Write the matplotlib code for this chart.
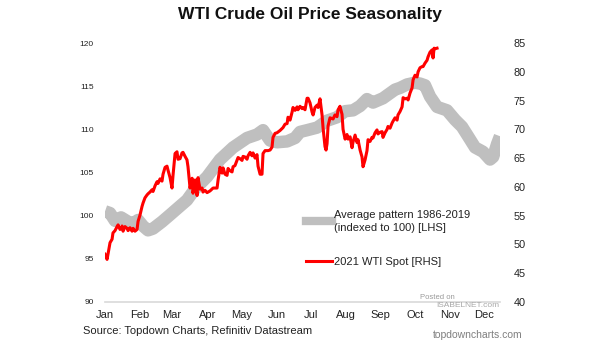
import numpy as np
import matplotlib.pyplot as plt
from matplotlib.lines import Line2D

# month ticks (day of year at month start)
months = ["Jan", "Feb", "Mar", "Apr", "May", "Jun",
          "Jul", "Aug", "Sep", "Oct", "Nov", "Dec"]
month_days = [0, 31, 59, 90, 120, 151, 181, 212, 243, 273, 304, 334]

# average pattern 1986-2019, indexed to 100 (LHS)
avg_days = [0, 4.4, 8.8, 14.1, 20.3, 24.7, 29.1, 33.5, 37.9, 42.3, 50.2, 57.3,
            64.3, 72.2, 79.3, 89.9, 101.3, 112.8, 125.1, 133.9, 139.2, 145.4,
            151.5, 160.4, 167.4, 171.8, 178.0, 186.8, 195.6, 204.4, 211.5,
            218.5, 224.7, 230.8, 236.1, 244.9, 255.5, 259.9, 266.1, 273.1,
            277.5, 281.9, 286.3, 292.5, 301.3, 308.4, 314.5, 319.8, 326.0,
            333.0, 339.2, 341.9, 345.4, 348.0]
avg_vals = [100.5, 100.3, 99.4, 99.8, 99.3, 99.1, 99.5, 98.8, 98.3, 98.5, 99.3,
            100.1, 100.9, 101.8, 103.1, 104.5, 106.5, 107.9, 109.0, 109.4,
            109.9, 108.7, 108.5, 108.6, 109.0, 109.7, 109.9, 110.2, 111.0,
            111.4, 112.1, 112.2, 112.7, 113.5, 113.1, 113.6, 114.6, 114.8,
            115.2, 115.4, 115.3, 115.1, 113.8, 112.6, 112.2, 111.1, 110.3,
            109.2, 107.9, 107.4, 106.5, 106.8, 108.3, 109.2]

# 2021 WTI spot (RHS)
wti_days = [0.0, 1.8, 4.4, 6.2, 7.0, 8.8, 10.6, 11.5, 13.2, 15.0, 15.9, 17.6,
            19.4, 20.3, 22.0, 23.8, 24.7, 26.4, 28.2, 29.1, 30.8, 32.6, 33.5,
            35.2, 37.0, 37.9, 39.6, 41.4, 42.3, 44.1, 45.8, 46.7, 48.5, 50.2,
            51.1, 52.9, 54.6, 55.5, 57.3, 59.0, 59.9, 61.7, 63.4, 64.3, 66.1,
            67.8, 68.7, 70.5, 72.2, 73.1, 74.9, 76.7, 77.5, 79.3, 81.1, 81.9,
            83.7, 85.5, 86.3, 88.1, 89.9, 92.5, 95.2, 98.7, 99.6, 101.3, 103.1,
            104.0, 105.7, 107.5, 108.4, 110.1, 111.9, 112.8, 114.5, 116.3,
            117.2, 118.9, 120.7, 121.6, 123.3, 125.1, 126.0, 127.8, 129.5,
            130.4, 132.2, 133.9, 134.8, 136.6, 138.3, 139.2, 141.0, 143.6,
            145.4, 147.1, 148.0, 149.8, 151.5, 154.2, 156.8, 158.6, 160.4,
            161.2, 163.0, 164.8, 165.6, 167.4, 169.2, 170.0, 171.8, 173.6,
            174.4, 176.2, 178.0, 178.9, 180.6, 182.4, 183.3, 185.0, 186.8,
            187.7, 189.4, 191.2, 192.1, 193.8, 194.7, 195.6, 196.5, 198.2,
            200.9, 202.6, 204.4, 205.3, 207.0, 208.8, 209.7, 211.5, 213.2,
            214.1, 215.9, 217.6, 218.5, 220.3, 222.0, 222.9, 224.7, 226.4,
            227.3, 229.1, 230.8, 231.7, 233.5, 235.2, 236.1, 237.9, 239.6,
            240.5, 242.3, 244.1, 244.9, 246.7, 248.5, 249.3, 251.1, 252.9,
            253.7, 255.5, 257.3, 258.1, 259.9, 261.7, 262.6, 264.3, 266.1,
            267.0, 268.7, 270.5, 271.4, 273.1, 274.9, 275.8, 277.5, 279.3,
            280.2, 281.9, 283.7, 284.6, 286.3, 288.1, 289.0, 289.9, 290.7,
            292.5]
wti_vals = [48.3, 47.4, 50.3, 50.9, 52.0, 52.4, 53.1, 53.4, 52.6, 53.2, 52.3,
            53.1, 52.8, 52.4, 52.9, 52.3, 52.8, 52.3, 52.6, 54.0, 55.1, 56.6,
            57.2, 58.1, 58.6, 58.8, 59.1, 59.5, 59.2, 60.2, 60.9, 60.6, 61.4,
            61.0, 62.2, 63.4, 63.6, 62.9, 61.6, 59.8, 62.0, 65.8, 66.1, 64.8,
            64.9, 65.9, 66.0, 65.3, 64.7, 63.5, 59.8, 61.5, 58.9, 61.2, 58.5,
            61.6, 59.6, 59.8, 59.1, 59.4, 59.0, 59.3, 59.8, 59.8, 61.2, 63.4,
            62.4, 63.3, 62.2, 62.0, 63.2, 62.8, 62.6, 63.5, 63.7, 64.6, 65.1,
            64.9, 64.6, 65.3, 65.2, 64.8, 65.4, 66.0, 65.4, 65.9, 65.0, 65.6,
            63.6, 62.2, 62.2, 65.8, 66.3, 66.3, 66.4, 66.9, 68.6, 69.3, 69.4,
            69.8, 70.3, 70.9, 71.0, 72.1, 71.6, 73.0, 73.8, 73.3, 73.9, 73.4,
            74.0, 73.6, 73.8, 73.4, 75.4, 75.4, 74.6, 73.0, 72.5, 73.8, 74.2,
            73.8, 75.3, 72.5, 70.2, 67.0, 66.4, 67.5, 70.6, 72.0, 71.8, 72.5,
            72.2, 73.4, 74.0, 72.6, 70.0, 68.3, 69.1, 68.3, 68.7, 66.8, 67.8,
            69.0, 67.7, 68.2, 66.4, 65.2, 63.5, 64.7, 66.3, 68.2, 67.9, 68.6,
            68.5, 69.4, 69.9, 69.2, 69.5, 69.6, 68.6, 69.4, 70.0, 70.5, 70.2,
            71.1, 71.4, 72.0, 71.6, 72.5, 73.1, 73.9, 75.5, 75.3, 75.4, 75.1,
            76.3, 77.2, 78.6, 79.4, 79.1, 80.0, 80.7, 80.9, 80.9, 81.5, 82.0,
            82.6, 83.4, 83.8, 82.4, 84.1, 84.0, 84.1]

left_ticks = [90, 95, 100, 105, 110, 115, 120]
right_ticks = [40, 45, 50, 55, 60, 65, 70, 75, 80, 85]

plt.rcParams.update({
    "font.family": ["Liberation Sans", "DejaVu Sans"],
})

GREY = "#BFBFBF"
RED = "#FF0000"

fig = plt.figure(figsize=(6.05, 3.41), dpi=100)
ax = fig.add_axes([0.1736, 0.1144, 0.6529, 0.7595])
ax2 = ax.twinx()

ax.plot(avg_days, avg_vals, color=GREY, linewidth=9,
        solid_capstyle="butt", solid_joinstyle="round")
ax2.plot(wti_days, wti_vals, color=RED, linewidth=2.2,
         solid_joinstyle="round")

ax.set_xlim(0, 348)
ax.set_ylim(90, 120)
ax2.set_ylim(40, 85)
ax.set_yticks(left_ticks)
ax2.set_yticks(right_ticks)
ax.set_xticks(month_days)
ax.set_xticklabels(months)

ax.tick_params(axis="y", length=0, labelsize=6, pad=8, labelcolor="#222222")
ax2.tick_params(axis="y", length=0, labelsize=7.8, pad=10, labelcolor="#222222")
ax.tick_params(axis="x", length=0, labelsize=8, pad=6, labelcolor="#222222")

for a in (ax, ax2):
    for name, sp in a.spines.items():
        sp.set_visible(name == "bottom")
ax.spines["bottom"].set_color("#D9D9D9")
ax.spines["bottom"].set_linewidth(1.2)
ax2.spines["bottom"].set_visible(False)

handles = [
    Line2D([], [], color=GREY, linewidth=6),
    Line2D([], [], color=RED, linewidth=2.2),
]
labels = ["Average pattern 1986-2019\n(indexed to 100) [LHS]",
          "2021 WTI Spot [RHS]"]
leg = ax2.legend(handles, labels, loc="upper left", bbox_to_anchor=(0.508, 0.357),
                 frameon=False, fontsize=8, handlelength=2.4, handletextpad=0.15,
                 labelspacing=2.15, borderpad=0, borderaxespad=0,
                 labelcolor="#222222")
leg.get_texts()[0].set_linespacing(1.4)

fig.text(0.512, 0.958, "WTI Crude Oil Price Seasonality", ha="center",
         va="center", fontsize=12.5, fontweight="bold", color="#111111")
fig.text(0.137, 0.030, "Source: Topdown Charts, Refinitiv Datastream",
         ha="left", va="center", fontsize=8, color="#222222")
fig.text(0.863, 0.018, "topdowncharts.com", ha="right", va="center",
         fontsize=7.5, color="#7F7F7F")
fig.text(0.723, 0.128, "Posted on", ha="center", va="center",
         fontsize=5.5, color="#9A9A9A")
fig.text(0.773, 0.104, "ISABELNET.com", ha="center", va="center",
         fontsize=6, color="#A8A8A8")

fig.savefig("out.png", dpi=100, facecolor="white")
